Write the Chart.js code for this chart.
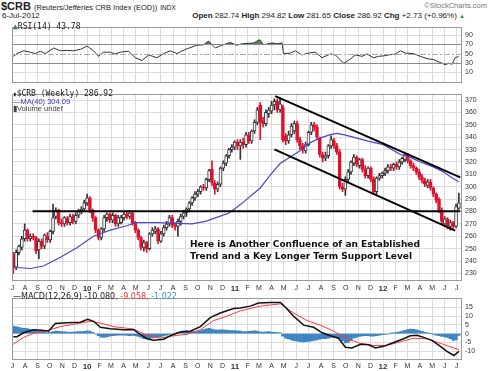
<!DOCTYPE html>
<html>
<head>
<meta charset="utf-8">
<script src="https://cdn.jsdelivr.net/npm/chart.js@4/dist/chart.umd.min.js"></script>
<style>
  body { margin: 0; width: 489px; height: 371px; background: #fff; position: relative; overflow: hidden;
         font-family: 'Liberation Sans', Arial, sans-serif; color: #222; }
  canvas { position: absolute; left: 0; }
  .t { position: absolute; white-space: nowrap; line-height: 1; }
  .mono { font-family: 'DejaVu Sans Mono', monospace; }
  .dv { font-family: 'DejaVu Sans', sans-serif; }
  .note { position: absolute; left: 190px; top: 238px; font: bold 9px 'DejaVu Sans', sans-serif; line-height: 12px; color: #111; white-space: nowrap; }
</style>
</head>
<body>

<div class="t" style="left:1px;top:1px;font-weight:bold;font-size:11px">$CRB <span style="font-weight:normal;font-size:7.5px">(Reuters/Jefferies CRB Index (EOD))</span> <span style="font-weight:normal;font-size:6.5px">INDX</span></div>
<div class="t" style="right:2px;top:2px;font-size:7.5px;color:#777">&copy;StockCharts.com</div>
<div class="t" style="left:2px;top:12px;font-size:8px">6-Jul-2012</div>
<div class="t" style="right:24px;top:12px;font-size:8px"><b>Open</b> 282.74 <b>High</b> 294.82 <b>Low</b> 281.65 <b>Close</b> 286.92 <b>Chg</b> +2.73 (+0.96%) <span style="color:#2a9a2a;font-size:6px">&#9650;</span></div>

<canvas id="rsi" width="489" height="70" style="top:20px"></canvas>
<canvas id="price" width="489" height="205" style="top:87px"></canvas>
<canvas id="macd" width="489" height="80" style="top:291px"></canvas>

<div class="t mono" style="left:13px;top:23px;font-size:8px"><span style="color:#3d7a3d">&#9650;</span>RSI(14) 43.78</div>
<div class="t mono" style="left:13px;top:90px;font-size:8px"><span style="font-size:6px">&#9646;</span>$CRB (Weekly) 286.92</div>
<div class="t" style="left:13px;top:98px;font-size:7.5px;color:#3434b8">&#8212;MA(40) 304.09</div>
<div class="t" style="left:13px;top:105px;font-size:7.5px;color:#444">&#9646;Volume undef</div>
<div class="t dv" style="left:13px;top:293px;font-size:8px">&#8212;MACD(12,26,9) -10.080<span style="color:#e83030">, -9.058</span><span style="color:#3f8fd0">, -1.022</span></div>

<div class="note">Here is Another Confluence of an Established<br>Trend and a Key Longer Term Support Level</div>

<script>
// weekly candles, 3-Jul-2009 .. 6-Jul-2012
const opens = [
  246,235,247,251,258,265,258,260,259,249,
  256,252,260,257,264,276,281,271,270,274,
  271,276,272,277,280,282,287,291,281,275,
  265,259,266,275,278,273,277,270,271,275,
  278,276,279,271,265,259,251,255,250,262,
  264,266,256,262,267,270,275,269,268,272,
  276,279,282,287,291,294,296,300,299,306,
  314,303,298,302,315,319,325,330,332,336,
  333,336,334,342,337,345,352,366,353,351,
  359,361,366,369,362,364,341,337,342,345,
  351,338,333,329,334,344,350,348,339,326,
  323,325,333,337,333,328,300,298,306,312,
  319,324,317,322,314,309,315,306,296,307,
  309,311,313,316,315,318,316,320,322,326,
  321,317,315,312,308,305,301,304,299,294,
  290,281,270,274,268,271,268,282.74
];
const highs = [
  247,249,253,260,270,266,262,262,260,258,
  258,262,263,265,286,283,282,274,276,276,
  278,278,279,282,284,289,294,292,282,276,
  266,267,277,279,279,279,278,277,277,280,
  280,281,280,272,266,260,257,256,263,267,
  268,267,264,269,272,277,277,271,274,278,
  281,283,288,292,296,298,301,302,307,314,
  321,305,304,316,321,326,331,334,337,338,
  338,339,344,344,346,354,364,368,356,362,
  364,369,371,371,372,366,343,345,351,353,
  353,340,335,336,345,352,352,350,340,328,
  328,334,341,339,335,330,303,308,314,321,
  326,325,323,323,317,316,316,308,308,311,
  312,315,318,318,319,320,322,324,328,327,
  322,319,316,314,310,307,306,306,300,295,
  291,283,276,275,273,272,286,294.82
];
const lows = [
  230,233,245,249,256,256,256,257,246,242,
  250,250,255,255,262,274,269,268,268,269,
  269,270,270,275,278,280,285,279,272,263,
  257,257,264,272,271,271,268,268,270,273,
  274,274,269,263,257,249,248,247,249,260,
  262,254,255,260,265,268,267,265,260,269,
  274,276,280,285,289,292,294,297,297,304,
  301,294,296,300,313,317,323,328,330,330,
  322,331,332,335,335,343,350,338,348,349,
  356,359,362,360,360,336,334,335,340,343,
  336,330,327,327,333,342,345,338,324,320,
  321,323,331,331,326,298,296,293,304,310,
  317,316,315,312,307,307,304,294,294,305,
  307,309,311,313,313,314,314,318,320,319,
  315,313,310,306,303,300,299,297,292,287,
  279,270,268,266,265,266,267,281.65
];
const closes = [
  235,247,252,258,265,258,260,259,248,256,
  252,261,257,264,275,281,271,270,275,271,
  276,272,277,280,282,287,291,281,275,265,
  259,266,275,278,273,277,270,275,275,278,
  276,279,271,265,259,251,255,250,262,265,
  266,256,262,267,270,275,269,268,272,276,
  279,282,287,291,294,296,300,299,306,313,
  303,298,302,315,319,325,330,332,336,333,
  336,334,342,337,345,352,362,352,351,360,
  362,366,369,362,367,338,337,342,349,351,
  338,333,330,334,344,350,348,340,326,323,
  325,333,338,333,328,300,298,306,312,320,
  324,318,322,314,309,315,306,296,307,309,
  311,313,316,315,318,316,320,323,326,321,
  317,315,312,308,305,302,304,299,294,289,
  281,272,274,268,271,268,284,286.92
];

// MA(40) (week index, value)
const maWeeks = [0,6,10.6,16.6,22.4,28.2,34.2,40,43,51,63,67.7,72.2,75.8,78.2,81.7,87,90.6,94,97.6,
  101,104.7,108.2,111.7,114,116.3,119.8,124.6,130.4,136.4,139.9,143.4,148,151.5,154,156.5,157];
const maValues = [235,234,236,243,250.7,260,265,268.5,271,271,270,272,275.7,278.6,282.5,288.8,299,309.6,318.7,324,
  329,335.6,339.5,342,343,342,340,337,334,326,323.7,320,316,312,308,304.6,304.09];

// hand-drawn lines: support level and the falling channel
const supportLine = [[6.8, 280.2], [157.5, 280.2]];
const channelTop = [[92.3, 373.1], [157.5, 307.5]];
const channelBottom = [[92, 330.2], [155.7, 264.5]];

// RSI(14)
const rsiWeeks = [0,1.3,3.6,6,7.8,9.5,11.3,14.2,16.6,18.9,21.2,23.6,26,28.3,30,31.8,34.2,35.9,37.7,40.6,
  43,45.3,47.7,50.6,53,55.3,57.7,60.6,64.7,67,68.8,71.2,73.5,76.5,78.6,80.6,84.7,86.8,88.2,91.2,
  92.9,94.7,95.2,97.6,99.4,101.7,104,106.4,108.8,111.7,113.5,116.4,118.1,120.5,122.9,124.6,127,128.7,130.5,132.2,
  134.6,136.4,138.1,141,143.4,145.8,148.1,149.9,152.2,153.4,154.6,155.7,156.9];
const rsiValues = [44,50,56,53,50,55,50,62,56,57,56,59,66,56,44,53,53,49,53,55,
  41,35,47,41,50,56,50,59,68,69,77,62,68,74,68,71,73,80,69,73,
  71,73,50,51,56,47,51,53,41,49,47,29,35,47,44,49,41,44,45,47,
  49,56,51,50,44,39,37,32,26,29,27,41,43.78];
const rsiLevels = [30, 50, 70];
const oversoldFrom = 148.1;   // only the June 2012 dip is shaded red

// MACD(12,26,9)
const macdWeeks = [0,1.3,3.6,7.2,10.1,12.4,14.8,18.9,23.6,26.2,28.3,30.7,34.2,38.9,42.4,44.7,47.1,49.4,53,55.3,
  58.8,62.4,65.9,69.4,72.9,77.6,80,83.5,86.4,90.6,94.1,95.8,98.8,102.3,105.8,108.8,111.7,114.6,117,119.3,
  122.3,125.2,127.6,130.5,134,137.5,139.9,142.2,144.6,147.5,150.5,152.8,155.2,157];
const macdValues = [-1.7,-1.7,0.5,2.2,1.9,1.4,5.7,6.2,6.5,8.2,7.0,3.6,2.8,2.2,2.2,-0.4,-2.9,-3.8,-3.2,-1.2,
  0.9,1.4,4.0,9.1,11.7,14.3,14.6,15.6,17.4,17.7,17.7,15.1,9.9,4.8,3.6,0.5,-1.2,-2.6,-7.7,-8.1,
  -6.0,-6.3,-8.1,-7.2,-5.0,-2.9,-1.2,-0.9,-2.1,-3.8,-7.2,-10.1,-12.4,-10.08];
const signalWeeks = [0,3.6,7.2,11.9,16.6,21.2,27.1,30.7,35.3,42.4,47.1,51.8,56.5,61.2,65.9,70.6,75.3,80,87,94.1,
  98.8,103.5,108.2,112.9,117.6,122.3,127,131.7,136.4,141,145.8,150.5,155.2,157];
const signalValues = [-6.0,-2.1,0.2,1.7,4.0,5.3,7.0,6.0,4.0,2.6,-0.9,-2.6,-1.2,-0.4,2.2,7.4,9.9,12.9,15.6,16.9,
  11.7,7.4,4.8,1.4,-2.9,-5.5,-6.7,-6.7,-4.6,-2.6,-2.9,-5.5,-8.1,-9.058];
const macdHist = [
  4.3,4.0,3.6,3.2,3.0,2.8,2.5,2.2,2.0,1.6,1.2,0.8,0.5,
  0.8,1.2,1.4,1.3,1.1,1.0,0.9,0.8,0.9,1.0,1.1,1.2,1.3,
  1.6,1.4,0.8,
  -0.3,-1.2,-2.0,-2.2,-1.8,
  -1.4,-1.2,-1.0,-0.8,-0.8,-0.9,-1.0,-1.1,-1.0,-1.2,-1.6,
  -2.2,-2.8,-3.0,-2.7,
  -2.4,-2.2,-2.0,-1.7,-1.3,
  -0.9,-0.5,-0.2,0.2,
  0.8,1.2,1.6,1.8,1.5,
  1.2,1.1,1.3,1.8,
  2.3,2.7,3.0,2.6,2.2,
  2.0,2.1,2.2,2.0,1.9,1.8,1.7,
  1.6,1.4,1.2,1.1,1.3,
  1.5,1.6,1.4,1.0,0.9,1.0,1.1,0.9,0.8,0.6,0.4,
  -1.5,-2.5,-3.0,-3.6,-4.0,
  -4.2,-4.5,-4.7,-4.6,-4.4,
  -4.1,-3.8,-3.5,-3.2,-2.9,
  -2.8,-2.5,-2.2,-2.0,-2.1,-2.8,-4.0,
  -5.2,-5.0,-3.8,-2.6,
  -2.0,-1.6,-1.3,-1.1,
  -1.2,-1.4,-1.5,-1.2,-0.9,
  -0.6,-0.4,-0.2,0.1,
  0.4,0.7,1.0,1.4,
  1.9,2.3,2.6,2.5,2.2,1.8,1.3,0.8,0.4,
  0.0,-0.4,-0.8,-1.2,
  -1.6,-1.9,-2.2,-2.8,
  -3.8,-3.6,-1.0
];

// axis labels
const monthLetters = ['J','F','M','A','M','J','J','A','S','O','N','D'];
const rsiTicks = [10, 30, 50, 70, 90];
const priceTicks = [230,240,250,260,270,280,290,300,310,320,330,340,350,360,370];
const macdTicks = [-10, -5, 0, 5, 10, 15];

// в”Ђв”Ђ month positions, in weeks from the first candle в”Ђв”Ђ
const firstWeek = Date.UTC(2009, 6, 3);
const monthPos = [], monthText = [];
for (let m = 0; m <= 36; m++) {
  const d = new Date(Date.UTC(2009, 6 + m, 1));
  monthPos.push((d - firstWeek) / (7 * 864e5));
  monthText.push(d.getUTCMonth() === 0 ? String(d.getUTCFullYear()).slice(2) : monthLetters[d.getUTCMonth()]);
}

const GRID = '#dcdcdc';
const RED = '#e0102e';
const UP = '#333';
const X_MIN = -0.46, X_MAX = 158.1;

const pts = (xs, ys) => xs.map((x, i) => ({ x, y: ys[i] }));
const seg = line => line.map(([x, y]) => ({ x, y }));
const isYear = i => /\d/.test(monthText[i] || '');

function timeAxis(showLabels, height) {
  return {
    type: 'linear', min: X_MIN, max: X_MAX, offset: false,
    afterBuildTicks: s => { s.ticks = monthPos.map(v => ({ value: v })); },
    afterFit: s => { s.height = height; },
    grid: { color: GRID, drawTicks: false, offset: false },
    border: { display: false },
    ticks: {
      display: showLabels, autoSkip: false, maxRotation: 0, padding: 2, color: '#333',
      callback: (v, i) => monthText[i],
      font: c => ({ size: isYear(c.index) ? 8 : 7, weight: isYear(c.index) ? 'bold' : 'normal' })
    }
  };
}

function valueAxis(min, max, ticks, gridColor) {
  return {
    position: 'right', min, max,
    afterBuildTicks: s => { s.ticks = ticks.map(v => ({ value: v })); },
    afterFit: s => { s.width = 27; },
    grid: { color: gridColor || GRID, drawTicks: false },
    border: { display: false },
    ticks: { padding: 3, color: '#333', font: { size: 7 } }
  };
}

const frame = {
  id: 'frame',
  afterDraw(chart) {
    const { ctx, chartArea: a } = chart;
    ctx.save();
    ctx.strokeStyle = '#999'; ctx.lineWidth = 1;
    ctx.strokeRect(Math.round(a.left) + 0.5, Math.round(a.top) + 0.5,
      Math.round(a.right - a.left) - 1, Math.round(a.bottom - a.top) - 1);
    ctx.restore();
  }
};

// 30 / 70 solid and 50 dash-dot, drawn over the fills
const rsiGuides = {
  id: 'rsiGuides',
  afterDatasetsDraw(chart) {
    const { ctx, chartArea: a, scales: { y } } = chart;
    ctx.save();
    ctx.lineWidth = 1;
    rsiLevels.forEach(v => {
      const py = Math.round(y.getPixelForValue(v)) + 0.5;
      ctx.strokeStyle = v === 50 ? '#aaa' : '#8a8a8a';
      ctx.setLineDash(v === 50 ? [6, 2, 2, 2] : []);
      ctx.beginPath(); ctx.moveTo(a.left, py); ctx.lineTo(a.right, py); ctx.stroke();
    });
    ctx.restore();
  }
};

const common = {
  responsive: false, animation: false, devicePixelRatio: 1, events: [],
  plugins: { legend: { display: false }, tooltip: { enabled: false } }
};

// в”Ђв”Ђ RSI panel в”Ђв”Ђ
const rsiPts = pts(rsiWeeks, rsiValues);
new Chart(document.getElementById('rsi'), {
  type: 'line',
  data: {
    datasets: [
      { data: rsiPts, borderColor: '#333', borderWidth: 1, pointRadius: 0, order: 0,
        fill: { target: { value: 70 }, above: '#4f8a4f', below: 'rgba(0,0,0,0)' } },
      { data: rsiPts.filter(p => p.x >= oversoldFrom), borderWidth: 0, pointRadius: 0, order: 1,
        fill: { target: { value: 30 }, above: 'rgba(0,0,0,0)', below: '#d04848' } }
    ]
  },
  options: {
    ...common,
    layout: { padding: { left: 12, top: 2, bottom: 2, right: 0 } },
    scales: {
      x: timeAxis(false, 0),
      y: valueAxis(-13.1, 106.9, rsiTicks, c => (c.tick && rsiLevels.includes(c.tick.value)) ? 'rgba(0,0,0,0)' : GRID)
    }
  },
  plugins: [rsiGuides, frame]
});

// в”Ђв”Ђ Price panel в”Ђв”Ђ
const weeks = closes.map((c, i) => i);
const isUp = i => closes[i] >= opens[i];
new Chart(document.getElementById('price'), {
  type: 'bar',
  data: {
    datasets: [
      { type: 'line', data: seg(supportLine), borderColor: '#000', borderWidth: 2, pointRadius: 0, order: 0 },
      { type: 'line', data: seg(channelTop), borderColor: '#000', borderWidth: 2, pointRadius: 0, order: 0 },
      { type: 'line', data: seg(channelBottom), borderColor: '#000', borderWidth: 2, pointRadius: 0, order: 0 },
      { type: 'line', data: pts(maWeeks, maValues), borderColor: '#4848c8', borderWidth: 1.2, pointRadius: 0, order: 1 },
      { data: weeks.map(i => ({ x: i, y: [opens[i], closes[i]] })),
        backgroundColor: weeks.map(i => isUp(i) ? '#fff' : RED),
        borderColor: weeks.map(i => isUp(i) ? UP : RED),
        borderWidth: 1, borderSkipped: false, barThickness: 3, grouped: false, order: 2 },
      { data: weeks.map(i => ({ x: i, y: [lows[i], highs[i]] })),
        backgroundColor: weeks.map(i => isUp(i) ? UP : RED),
        barThickness: 1, grouped: false, order: 3 }
    ]
  },
  options: {
    ...common,
    layout: { padding: { left: 12, top: 1, bottom: 0, right: 0 } },
    scales: {
      x: timeAxis(true, 10.5),
      y: valueAxis(223.5, 374.7, priceTicks)
    }
  },
  plugins: [frame]
});

// в”Ђв”Ђ MACD panel в”Ђв”Ђ
new Chart(document.getElementById('macd'), {
  type: 'bar',
  data: {
    datasets: [
      { type: 'line', data: pts(macdWeeks, macdValues), borderColor: '#111', borderWidth: 1.5, pointRadius: 0, order: 0 },
      { type: 'line', data: pts(signalWeeks, signalValues), borderColor: '#ff3a3a', borderWidth: 1, pointRadius: 0, order: 1 },
      { data: macdHist.map((h, i) => ({ x: i, y: h })), backgroundColor: '#3d85c2',
        barThickness: 2.6, grouped: false, order: 2 }
    ]
  },
  options: {
    ...common,
    layout: { padding: { left: 12, top: 1, bottom: 0, right: 0 } },
    scales: {
      x: timeAxis(true, 11),
      y: valueAxis(-14.95, 20.1, macdTicks)
    }
  },
  plugins: [frame]
});
</script>
</body>
</html>
